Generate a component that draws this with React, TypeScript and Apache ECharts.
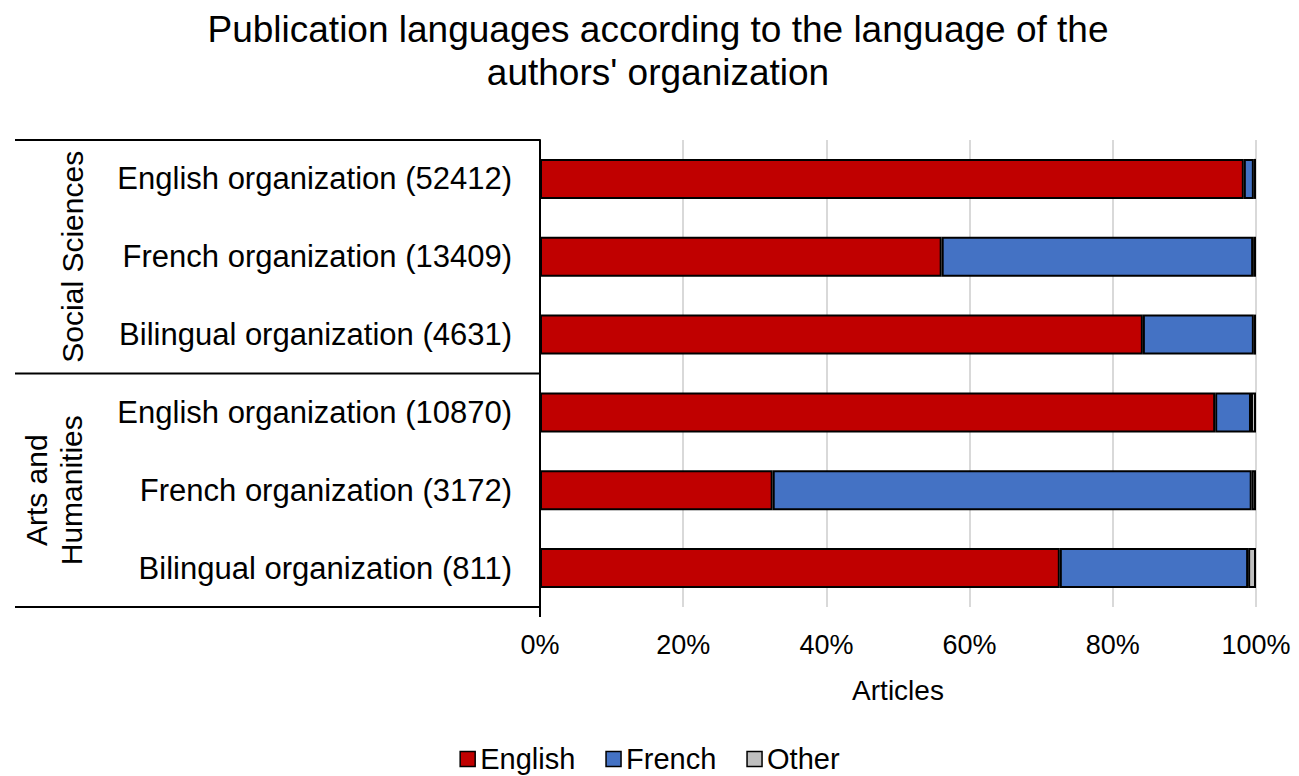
import React, { useEffect, useRef } from "react";
import * as echarts from "echarts";

const categories = [
  "English organization (52412)",
  "French organization (13409)",
  "Bilingual organization (4631)",
  "English organization (10870)",
  "French organization (3172)",
  "Bilingual organization (811)",
];
const groups = ["Social Sciences", "Arts and\nHumanities"];
const englishPct = [98.3, 56.1, 84.2, 94.3, 32.5, 72.6];
const frenchPct = [1.4, 43.5, 15.5, 5.0, 66.9, 26.3];
const otherPct = [0.3, 0.4, 0.3, 0.7, 0.6, 1.1];
const seriesNames = ["English", "French", "Other"];
const xTicks = [0, 20, 40, 60, 80, 100];

const FONT = "'Liberation Sans', Arial, sans-serif";

export default function App() {
  const ref = useRef<HTMLDivElement>(null);
  useEffect(() => {
    if (!ref.current) return;
    const chart = echarts.init(ref.current, null, { renderer: "svg" });
    const gridLeft = 540;
    const gridTop = 140;
    const gridHeight = 467;
    const rowH = gridHeight / categories.length;
    const mkSeries = (name: string, data: number[], color: string) => ({
      name,
      type: "bar",
      stack: "total",
      data,
      barWidth: 40,
      itemStyle: { color, borderColor: "#000", borderWidth: 2 },
      emphasis: { disabled: true },
    });
    chart.setOption({
      animation: false,
      textStyle: { fontFamily: FONT, color: "#000" },
      title: {
        text: "Publication languages according to the language of the\nauthors' organization",
        left: 653,
        textAlign: "center",
        top: 3,
        textStyle: { fontSize: 37, fontWeight: "normal", color: "#000", lineHeight: 43, fontFamily: FONT },
      },
      legend: {
        top: 744,
        left: "center",
        padding: 0,
        data: seriesNames,
        icon: "rect",
        itemWidth: 15,
        itemHeight: 15,
        itemGap: 30,
        textStyle: { fontSize: 29, lineHeight: 30, color: "#000", fontFamily: FONT, padding: [0, 0, 0, 0] },
        itemStyle: { borderColor: "#000", borderWidth: 1.5 },
      },
      grid: { left: gridLeft, right: 43, top: gridTop, height: gridHeight, containLabel: false },
      xAxis: {
        type: "value",
        min: 0,
        max: 100,
        interval: 20,
        axisLine: { show: false },
        axisTick: { show: false },
        splitLine: { lineStyle: { color: "#d9d9d9", width: 2 } },
        axisLabel: {
          formatter: (v: number) => (xTicks.includes(v) ? v + "%" : ""),
          fontSize: 27,
          color: "#000",
          margin: 24,
          fontFamily: FONT,
        },
        name: "Articles",
        nameLocation: "middle",
        nameGap: 69,
        nameTextStyle: { fontSize: 28, color: "#000", fontFamily: FONT },
      },
      yAxis: {
        type: "category",
        inverse: true,
        data: categories,
        axisLine: { lineStyle: { color: "#000", width: 2 } },
        axisTick: { show: false },
        axisLabel: { fontSize: 31, color: "#000", margin: 28, fontFamily: FONT },
      },
      series: [
        mkSeries(seriesNames[0], englishPct, "#C00000"),
        mkSeries(seriesNames[1], frenchPct, "#4472C4"),
        mkSeries(seriesNames[2], otherPct, "#BFBFBF"),
      ],
      graphic: [
        { type: "line", shape: { x1: 15, y1: gridTop, x2: gridLeft, y2: gridTop }, style: { stroke: "#000", lineWidth: 2 } },
        { type: "line", shape: { x1: 15, y1: gridTop + rowH * 3, x2: gridLeft, y2: gridTop + rowH * 3 }, style: { stroke: "#000", lineWidth: 2 } },
        { type: "line", shape: { x1: 15, y1: gridTop + gridHeight, x2: gridLeft, y2: gridTop + gridHeight }, style: { stroke: "#000", lineWidth: 2 } },
        { type: "line", shape: { x1: gridLeft, y1: gridTop + gridHeight, x2: gridLeft, y2: gridTop + gridHeight + 10 }, style: { stroke: "#000", lineWidth: 2 } },
        {
          type: "text",
          x: 72,
          y: gridTop + rowH * 1.5,
          rotation: Math.PI / 2,
          style: { text: groups[0], fontSize: 30, fill: "#000", align: "center", verticalAlign: "middle", fontFamily: FONT },
        },
        {
          type: "text",
          x: 54,
          y: gridTop + rowH * 4.5,
          rotation: Math.PI / 2,
          style: { text: groups[1], fontSize: 30, lineHeight: 35, fill: "#000", align: "center", verticalAlign: "middle", fontFamily: FONT },
        },
      ],
    });
    return () => chart.dispose();
  }, []);
  return (
    <div
      ref={ref}
      style={{ position: "fixed", left: 0, top: 0, width: 1299, height: 776, background: "#fff" }}
    />
  );
}
